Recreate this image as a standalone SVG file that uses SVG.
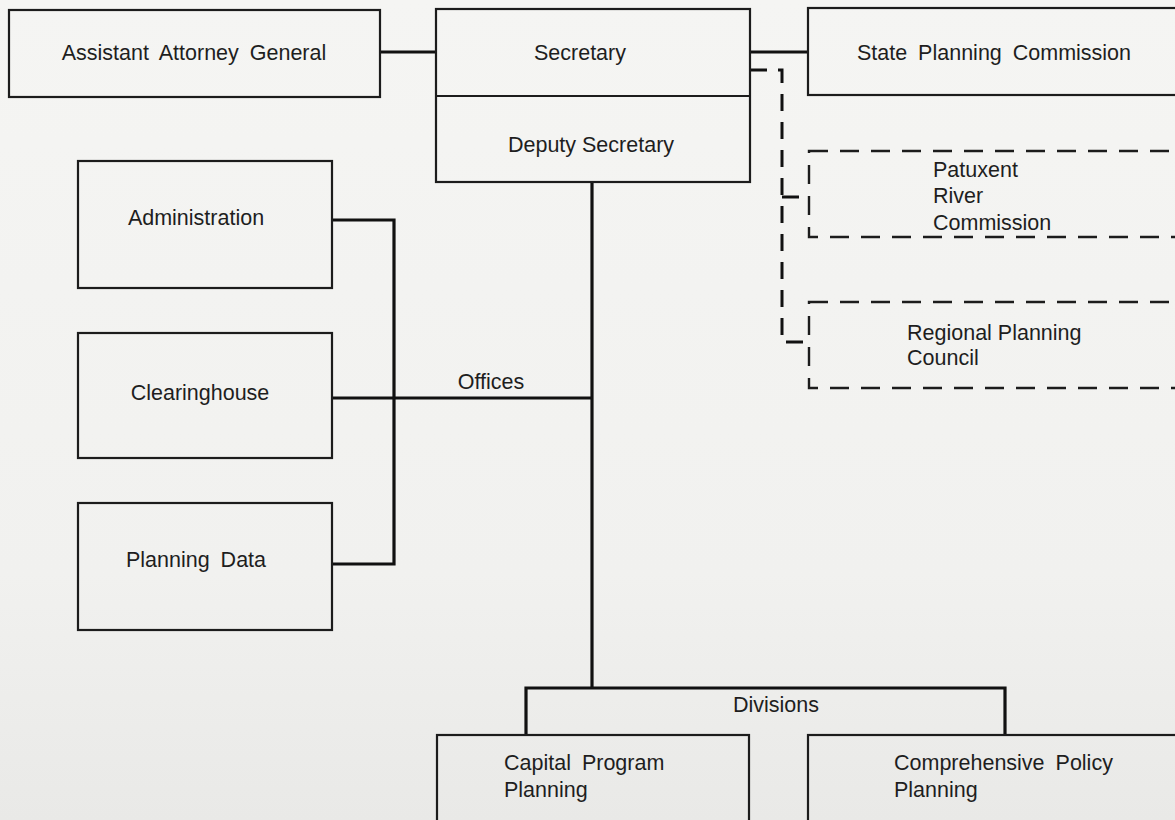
<svg xmlns="http://www.w3.org/2000/svg" width="1175" height="820" viewBox="0 0 1175 820">
<defs>
<linearGradient id="bg" x1="0" y1="0" x2="0" y2="1">
<stop offset="0" stop-color="#f5f5f3"/>
<stop offset="0.7" stop-color="#f1f1ef"/>
<stop offset="1" stop-color="#e9e9e7"/>
</linearGradient>
<style>
.box{fill:none;stroke:#1c1c1c;stroke-width:2.2}
.dbox{fill:none;stroke:#1c1c1c;stroke-width:2.4;stroke-dasharray:19 12}
.conn{fill:none;stroke:#111;stroke-width:3.2}
.dconn{fill:none;stroke:#111;stroke-width:3;stroke-dasharray:17 11}
text{font-family:"Liberation Sans",Arial,sans-serif;font-size:21.5px;fill:#1e1e1e;word-spacing:5px}
.n{word-spacing:0}
.c{text-anchor:middle}
</style>
</defs>
<rect x="0" y="0" width="1175" height="820" fill="url(#bg)"/>
<g id="connectors">
<path class="conn" d="M380,52 H436"/>
<path class="conn" d="M750,52 H808"/>
<path class="conn" d="M592,182 V688"/>
<path class="conn" d="M332,398 H592"/>
<path class="conn" d="M332,220 H394 V564 H332"/>
<path class="conn" d="M526,735 V688 H1005 V735"/>
<path class="dconn" d="M750,70 H782 V342 H809"/>
<path class="dconn" d="M782,197 H809"/>
<text class="c" x="491" y="389">Offices</text>
<text class="c" x="776" y="712">Divisions</text>
</g>
<g id="assistant-attorney-general">
<rect class="box" x="9" y="10" width="371" height="87"/>
<text class="c" x="194" y="60">Assistant Attorney General</text>
</g>
<g id="secretary">
<rect class="box" x="436" y="9" width="314" height="173"/>
<line class="box" x1="436" y1="96" x2="750" y2="96"/>
<text class="c" x="580" y="60">Secretary</text>
<text class="c n" x="591" y="152">Deputy Secretary</text>
</g>
<g id="state-planning-commission">
<rect class="box" x="808" y="8" width="380" height="87"/>
<text class="c" x="994" y="60">State Planning Commission</text>
</g>
<g id="patuxent-river-commission">
<rect class="dbox" x="809" y="151" width="380" height="86"/>
<text x="933" y="177">Patuxent</text>
<text x="933" y="203">River</text>
<text x="933" y="230">Commission</text>
</g>
<g id="regional-planning-council">
<rect class="dbox" x="809" y="302" width="380" height="86"/>
<text class="n" x="907" y="340">Regional Planning</text>
<text x="907" y="365">Council</text>
</g>
<g id="administration">
<rect class="box" x="78" y="161" width="254" height="127"/>
<text class="c" x="196" y="225">Administration</text>
</g>
<g id="clearinghouse">
<rect class="box" x="78" y="333" width="254" height="125"/>
<text class="c" x="200" y="400">Clearinghouse</text>
</g>
<g id="planning-data">
<rect class="box" x="78" y="503" width="254" height="127"/>
<text class="c" x="196" y="567">Planning Data</text>
</g>
<g id="capital-program-planning">
<rect class="box" x="437" y="735" width="312" height="100"/>
<text x="504" y="770">Capital Program</text>
<text x="504" y="797">Planning</text>
</g>
<g id="comprehensive-policy-planning">
<rect class="box" x="808" y="735" width="380" height="100"/>
<text x="894" y="770">Comprehensive Policy</text>
<text x="894" y="797">Planning</text>
</g>
</svg>
